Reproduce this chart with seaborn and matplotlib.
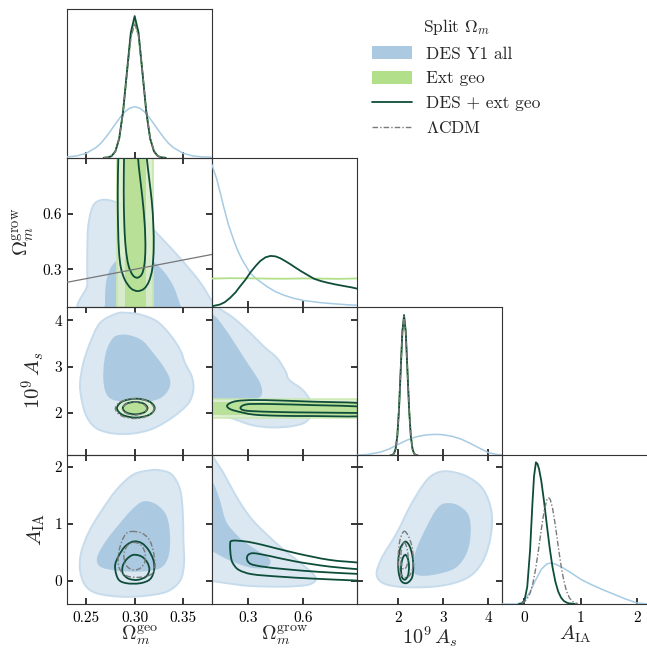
import numpy as np
import matplotlib
matplotlib.use("Agg")
import matplotlib.pyplot as plt
import seaborn as sns
from matplotlib.path import Path
from matplotlib.patches import PathPatch, Patch
from matplotlib.lines import Line2D

# ---------------- axes / labels ----------------
PARAM_LABELS = [r"$\Omega_m^{\rm geo}$", r"$\Omega_m^{\rm grow}$", r"$10^9\,A_s$", r"$A_{\rm IA}$"]
PARAM_LIMITS = [(0.23, 0.38), (0.1, 0.9), (1.08, 4.3), (-0.4, 2.2)]
PARAM_TICKS = [[0.25, 0.30, 0.35], [0.3, 0.6], [2, 3, 4], [0, 1, 2]]
PARAM_TICKLABELS = [["0.25", "0.30", "0.35"], ["0.3", "0.6"], ["2", "3", "4"], ["0", "1", "2"]]
SERIES = ["DES Y1 all", "Ext geo", "DES + ext geo", r"$\Lambda$CDM"]
LEGEND_TITLE = r"Split $\Omega_m$"

# ---------------- 1D marginals (normalised density) ----------------
GEO_DES_X = [0.230, 0.240, 0.250, 0.260, 0.265, 0.270, 0.275, 0.280, 0.285, 0.290, 0.295, 0.300,
             0.305, 0.310, 0.315, 0.320, 0.325, 0.330, 0.335, 0.340, 0.350, 0.360, 0.370, 0.380]
GEO_DES_Y = [0.006, 0.013, 0.032, 0.072, 0.102, 0.143, 0.189, 0.238, 0.285, 0.325, 0.351, 0.360,
             0.351, 0.325, 0.285, 0.238, 0.189, 0.143, 0.102, 0.072, 0.032, 0.013, 0.006, 0.004]
GEO_NARROW_X = [0.268, 0.272, 0.276, 0.280, 0.284, 0.288, 0.292, 0.296, 0.300,
                0.304, 0.308, 0.312, 0.316, 0.320, 0.324, 0.328, 0.332]
GEO_EXT_Y = [0.000, 0.003, 0.013, 0.048, 0.140, 0.328, 0.600, 0.858, 0.965,
             0.858, 0.600, 0.328, 0.140, 0.048, 0.013, 0.003, 0.000]
GEO_JOINT_Y = [0.000, 0.002, 0.011, 0.044, 0.135, 0.325, 0.607, 0.883, 1.000,
               0.883, 0.607, 0.325, 0.135, 0.044, 0.011, 0.002, 0.000]
GEO_LCDM_Y = [0.000, 0.002, 0.012, 0.045, 0.136, 0.320, 0.590, 0.840, 0.950,
              0.860, 0.612, 0.335, 0.142, 0.047, 0.012, 0.002, 0.000]

GROW_DES_X = [0.100, 0.126, 0.150, 0.163, 0.190, 0.218, 0.240, 0.265, 0.290, 0.311,
              0.350, 0.404, 0.450, 0.496, 0.550, 0.607, 0.700, 0.774, 0.850, 0.904]
GROW_DES_Y = [1.000, 0.900, 0.780, 0.711, 0.580, 0.475, 0.400, 0.333, 0.280, 0.234,
              0.190, 0.140, 0.105, 0.080, 0.058, 0.042, 0.027, 0.019, 0.012, 0.009]
GROW_EXT_X = [0.1, 0.2, 0.3, 0.4, 0.5, 0.6, 0.7, 0.8, 0.9]
GROW_EXT_Y = [0.197, 0.200, 0.199, 0.197, 0.196, 0.198, 0.197, 0.195, 0.198]
GROW_JOINT_X = [0.100, 0.144, 0.170, 0.200, 0.230, 0.256, 0.285, 0.311, 0.340, 0.367, 0.395, 0.422, 0.450,
                0.478, 0.505, 0.533, 0.560, 0.589, 0.630, 0.663, 0.700, 0.737, 0.780, 0.830, 0.870, 0.904]
GROW_JOINT_Y = [0.002, 0.014, 0.030, 0.061, 0.100, 0.144, 0.190, 0.239, 0.285, 0.322, 0.347, 0.357, 0.354,
                0.340, 0.320, 0.298, 0.275, 0.251, 0.220, 0.196, 0.180, 0.168, 0.156, 0.144, 0.135, 0.125]

AS_DES_X = [1.08, 1.3, 1.6, 1.8, 2.0, 2.2, 2.4, 2.6, 2.8, 2.9, 3.0, 3.2, 3.4, 3.6, 3.8, 4.0, 4.2, 4.3]
AS_DES_Y = [0.001, 0.005, 0.022, 0.045, 0.078, 0.108, 0.130, 0.143, 0.147, 0.147, 0.144, 0.133,
            0.113, 0.083, 0.050, 0.018, 0.005, 0.003]
AS_NARROW_X = [1.825, 1.8625, 1.9, 1.9375, 1.975, 2.0125, 2.05, 2.0875, 2.125,
               2.1625, 2.2, 2.2375, 2.275, 2.3125, 2.35, 2.3875, 2.425]
AS_EXT_Y = [0.000, 0.003, 0.013, 0.047, 0.138, 0.325, 0.595, 0.858, 0.970,
            0.858, 0.595, 0.325, 0.138, 0.047, 0.013, 0.003, 0.000]
AS_JOINT_Y = [0.000, 0.002, 0.011, 0.043, 0.134, 0.322, 0.600, 0.874, 0.990,
              0.874, 0.600, 0.322, 0.134, 0.043, 0.011, 0.002, 0.000]
AS_LCDM_Y = [0.000, 0.002, 0.011, 0.044, 0.136, 0.320, 0.595, 0.865, 0.980,
             0.868, 0.600, 0.325, 0.136, 0.044, 0.011, 0.002, 0.000]

AIA_DES_X = [-0.40, -0.15, -0.05, 0.0, 0.1, 0.2, 0.3, 0.4, 0.47, 0.55, 0.7, 0.85, 1.0, 1.2, 1.4, 1.6, 1.8, 2.0, 2.2]
AIA_DES_Y = [0.0, 0.0, 0.010, 0.025, 0.085, 0.170, 0.245, 0.283, 0.289, 0.282, 0.252, 0.215, 0.175,
             0.135, 0.100, 0.068, 0.035, 0.008, 0.0]
AIA_JOINT_X = [-0.10, -0.05, 0.0, 0.05, 0.10, 0.14, 0.17, 0.204, 0.23, 0.26, 0.30, 0.35, 0.40,
               0.45, 0.50, 0.55, 0.60, 0.65, 0.70, 0.75, 0.80, 0.90]
AIA_JOINT_Y = [0.000, 0.003, 0.025, 0.122, 0.380, 0.696, 0.900, 1.000, 0.990, 0.953, 0.868, 0.720, 0.553,
               0.393, 0.259, 0.158, 0.089, 0.046, 0.022, 0.010, 0.004, 0.000]
AIA_LCDM_X = [-0.05, 0.0, 0.05, 0.10, 0.15, 0.20, 0.25, 0.30, 0.35, 0.40, 0.43, 0.46, 0.50, 0.55,
              0.60, 0.65, 0.70, 0.75, 0.80, 0.85, 0.90, 0.95]
AIA_LCDM_Y = [0.006, 0.016, 0.037, 0.077, 0.146, 0.250, 0.383, 0.527, 0.656, 0.737, 0.750, 0.737,
              0.677, 0.556, 0.410, 0.274, 0.165, 0.090, 0.044, 0.019, 0.008, 0.003]

# ---------------- 2D contours (68% / 95% outlines) ----------------
# Omega_geo vs Omega_grow
GEO_GROW_DES95 = [(0.251, 0.06), (0.251, 0.22), (0.251, 0.390), (0.252, 0.534), (0.257, 0.642), (0.266, 0.673),
                  (0.278, 0.666), (0.292, 0.634), (0.306, 0.588), (0.319, 0.516), (0.337, 0.417),
                  (0.354, 0.318), (0.368, 0.228), (0.380, 0.129), (0.39, 0.06)]
GEO_GROW_DES68 = [(0.2693, 0.06), (0.2693, 0.111), (0.2704, 0.228), (0.2763, 0.318), (0.2883, 0.369),
                  (0.3021, 0.381), (0.3159, 0.354), (0.3297, 0.291), (0.340, 0.210), (0.347, 0.111), (0.349, 0.06)]
GEO_BAND95 = (0.282, 0.319)
GEO_BAND68 = (0.2895, 0.3115)
GEO_GROW_JOINT95 = [(0.2831, 0.9), (0.2825, 0.72), (0.2828, 0.54), (0.2838, 0.395), (0.2859, 0.305),
                    (0.2900, 0.242), (0.2963, 0.197), (0.3032, 0.183), (0.3100, 0.197), (0.3149, 0.237),
                    (0.3183, 0.305), (0.3197, 0.414), (0.3193, 0.54), (0.3177, 0.666), (0.3149, 0.792),
                    (0.3125, 0.9), (0.311, 1.0), (0.284, 1.0)]
GEO_GROW_JOINT68 = [(0.2890, 0.9), (0.2887, 0.72), (0.2893, 0.54), (0.2908, 0.414), (0.2935, 0.323),
                    (0.2980, 0.269), (0.3028, 0.255), (0.3073, 0.273), (0.3100, 0.323), (0.3111, 0.414),
                    (0.3104, 0.54), (0.3080, 0.684), (0.3052, 0.81), (0.3035, 0.9), (0.303, 1.0), (0.289, 1.0)]
EQUALITY_LINE = [0.0, 1.0]

# Omega_geo vs A_s
GEO_AS_DES95 = [(0.2814, 4.148), (0.2642, 3.945), (0.2538, 3.510), (0.2469, 3.075), (0.2435, 2.640),
                (0.2452, 2.277), (0.2504, 1.913), (0.2607, 1.660), (0.2779, 1.552), (0.2986, 1.552),
                (0.3193, 1.660), (0.3400, 1.913), (0.3556, 2.205), (0.3607, 2.494), (0.3591, 2.784),
                (0.3522, 3.075), (0.3470, 3.364), (0.3366, 3.691), (0.3229, 3.980), (0.3056, 4.126),
                (0.2918, 4.163)]
GEO_AS_DES68 = [(0.2883, 3.691), (0.2986, 3.655), (0.3090, 3.546), (0.3193, 3.292), (0.3297, 3.003),
                (0.3366, 2.712), (0.3349, 2.494), (0.3263, 2.313), (0.3125, 2.240), (0.2952, 2.240),
                (0.2779, 2.277), (0.2704, 2.422), (0.2676, 2.712), (0.2683, 3.075), (0.2717, 3.401),
                (0.2787, 3.640)]
GEO_AS_EXT95 = [(0.3211, 2.096), (0.3153, 2.250), (0.3012, 2.310), (0.2871, 2.250), (0.2813, 2.096),
                (0.2871, 1.942), (0.3012, 1.882), (0.3153, 1.942)]
GEO_AS_EXT68 = [(0.3145, 2.096), (0.3105, 2.199), (0.3010, 2.238), (0.2915, 2.199), (0.2875, 2.096),
                (0.2915, 1.994), (0.3010, 1.955), (0.3105, 1.994)]
GEO_AS_JOINT95 = [(0.3207, 2.10), (0.3150, 2.245), (0.3012, 2.305), (0.2874, 2.245), (0.2817, 2.10),
                  (0.2874, 1.955), (0.3012, 1.895), (0.3150, 1.955)]
GEO_AS_JOINT68 = [(0.3133, 2.10), (0.3096, 2.195), (0.3005, 2.235), (0.2914, 2.195), (0.2877, 2.10),
                  (0.2914, 2.005), (0.3005, 1.965), (0.3096, 2.005)]
GEO_AS_LCDM95 = [(0.3200, 2.09), (0.3141, 2.242), (0.3000, 2.305), (0.2859, 2.242), (0.2800, 2.09),
                 (0.2859, 1.938), (0.3000, 1.875), (0.3141, 1.938)]
GEO_AS_LCDM68 = [(0.3125, 2.09), (0.3088, 2.189), (0.3000, 2.230), (0.2912, 2.189), (0.2875, 2.09),
                 (0.2912, 1.991), (0.3000, 1.950), (0.3088, 1.991)]

# Omega_geo vs A_IA
GEO_AIA_DES95 = [(0.3159, 1.937), (0.2986, 1.862), (0.2814, 1.599), (0.2642, 1.190), (0.2521, 0.840),
                 (0.2445, 0.489), (0.2435, 0.196), (0.2486, -0.067), (0.2607, -0.212), (0.2849, -0.272),
                 (0.3090, -0.260), (0.3332, -0.184), (0.3470, 0.009), (0.3511, 0.314), (0.3504, 0.722),
                 (0.3498, 1.190), (0.3470, 1.599), (0.3384, 1.862), (0.3263, 1.937)]
GEO_AIA_DES68 = [(0.3090, 1.394), (0.3229, 1.336), (0.3332, 1.131), (0.3366, 0.780), (0.3349, 0.429),
                 (0.3263, 0.226), (0.3056, 0.166), (0.2814, 0.184), (0.2642, 0.254), (0.2614, 0.429),
                 (0.2711, 0.722), (0.2849, 1.015), (0.2970, 1.248)]
GEO_AIA_JOINT95 = [(0.2986, 0.692), (0.3073, 0.664), (0.3142, 0.547), (0.3193, 0.371), (0.3201, 0.196),
                   (0.3159, 0.033), (0.3056, -0.037), (0.2918, -0.037), (0.2831, 0.033), (0.2797, 0.254),
                   (0.2831, 0.429), (0.2900, 0.605)]
GEO_AIA_JOINT68 = [(0.2986, 0.459), (0.3073, 0.429), (0.3131, 0.324), (0.3152, 0.196), (0.3118, 0.079),
                   (0.3028, 0.021), (0.2935, 0.044), (0.2877, 0.138), (0.2877, 0.266), (0.2918, 0.383)]
GEO_AIA_LCDM95 = [(0.2970, 0.868), (0.3073, 0.839), (0.3152, 0.722), (0.3193, 0.517), (0.3211, 0.284),
                  (0.3177, 0.126), (0.3056, 0.068), (0.2918, 0.091), (0.2841, 0.226), (0.2831, 0.459),
                  (0.2866, 0.692), (0.2911, 0.827)]
GEO_AIA_LCDM68 = [(0.2986, 0.675), (0.3063, 0.634), (0.3107, 0.489), (0.3100, 0.314), (0.3038, 0.208),
                  (0.2959, 0.208), (0.2900, 0.314), (0.2890, 0.489), (0.2924, 0.617)]

# Omega_grow vs A_s
GROW_AS_DES95 = [(0.05, 4.5), (0.12, 4.5), (0.126, 4.307), (0.218, 4.054), (0.311, 3.728), (0.385, 3.436),
                 (0.459, 3.184), (0.506, 2.892), (0.526, 2.712), (0.600, 2.494), (0.646, 2.240),
                 (0.652, 2.022), (0.618, 1.804), (0.544, 1.711), (0.433, 1.682), (0.322, 1.732),
                 (0.211, 1.878), (0.100, 2.022), (0.05, 2.1)]
GROW_AS_DES68 = [(0.05, 4.15), (0.107, 4.12), (0.163, 3.871), (0.237, 3.436), (0.302, 3.038),
                 (0.357, 2.712), (0.376, 2.509), (0.367, 2.348), (0.311, 2.277), (0.200, 2.277),
                 (0.100, 2.292), (0.05, 2.29)]
AS_BAND95 = (1.885, 2.305)
AS_BAND68 = (1.960, 2.235)
GROW_AS_JOINT95 = [(0.95, 2.20), (0.656, 2.24), (0.47, 2.265), (0.33, 2.275), (0.24, 2.255), (0.20, 2.21),
                   (0.183, 2.15), (0.195, 2.09), (0.23, 2.04), (0.33, 1.96), (0.47, 1.935), (0.656, 1.929),
                   (0.95, 1.93), (1.05, 2.06)]
GROW_AS_JOINT68 = [(0.95, 2.13), (0.656, 2.165), (0.47, 2.185), (0.32, 2.19), (0.275, 2.165), (0.257, 2.11),
                   (0.27, 2.06), (0.32, 2.035), (0.47, 2.015), (0.656, 2.005), (0.95, 2.0), (1.05, 2.06)]

# Omega_grow vs A_IA
GROW_AIA_DES95 = [(0.05, 2.4), (0.105, 2.4), (0.107, 2.183), (0.163, 1.891), (0.218, 1.569), (0.274, 1.278),
                  (0.330, 1.043), (0.404, 0.810), (0.496, 0.547), (0.589, 0.314), (0.654, 0.138),
                  (0.672, 0.021), (0.626, -0.067), (0.496, -0.097), (0.311, -0.085), (0.182, -0.037),
                  (0.100, 0.003), (0.05, 0.02)]
GROW_AIA_DES68 = [(0.05, 1.8), (0.100, 1.75), (0.140, 1.45), (0.174, 1.073), (0.211, 0.897), (0.276, 0.693),
                  (0.359, 0.518), (0.415, 0.400), (0.419, 0.295), (0.378, 0.225), (0.304, 0.242),
                  (0.211, 0.342), (0.137, 0.459), (0.100, 0.518), (0.05, 0.55)]
GROW_AIA_JOINT95 = [(0.95, 0.30), (0.906, 0.324), (0.748, 0.371), (0.563, 0.488), (0.378, 0.634),
                    (0.285, 0.693), (0.211, 0.705), (0.200, 0.634), (0.204, 0.430), (0.215, 0.313),
                    (0.248, 0.196), (0.322, 0.120), (0.470, 0.079), (0.656, 0.044), (0.906, 0.009),
                    (0.95, 0.005), (1.05, 0.15)]
GROW_AIA_JOINT68 = [(0.95, 0.19), (0.906, 0.208), (0.748, 0.254), (0.563, 0.342), (0.415, 0.441),
                    (0.331, 0.488), (0.300, 0.459), (0.293, 0.383), (0.313, 0.301), (0.378, 0.254),
                    (0.507, 0.208), (0.693, 0.161), (0.906, 0.126), (0.95, 0.12), (1.05, 0.16)]

# A_s vs A_IA
AS_AIA_DES95 = [(3.072, 1.920), (3.516, 1.832), (3.885, 1.599), (4.071, 1.190), (4.034, 0.722),
                (3.849, 0.314), (3.516, 0.051), (2.923, -0.084), (2.184, -0.107), (1.702, -0.049),
                (1.517, 0.109), (1.628, 0.401), (1.962, 0.840), (2.257, 1.306), (2.552, 1.686), (2.774, 1.862)]
AS_AIA_DES68 = [(2.997, 1.353), (3.294, 1.336), (3.552, 1.160), (3.605, 0.840), (3.516, 0.489),
                (3.256, 0.226), (2.774, 0.109), (2.406, 0.109), (2.317, 0.254), (2.406, 0.577),
                (2.628, 0.955), (2.812, 1.218)]
AS_AIA_JOINT95 = [(2.146, 0.69), (2.242, 0.62), (2.308, 0.45), (2.330, 0.25), (2.301, 0.06), (2.184, -0.035),
                  (2.064, 0.0), (2.006, 0.15), (1.997, 0.35), (2.035, 0.56)]
AS_AIA_JOINT68 = [(2.146, 0.46), (2.206, 0.40), (2.235, 0.26), (2.213, 0.10), (2.146, 0.025), (2.079, 0.07),
                  (2.057, 0.22), (2.086, 0.38)]
AS_AIA_LCDM95 = [(2.124, 0.87), (2.219, 0.79), (2.295, 0.62), (2.330, 0.40), (2.308, 0.20), (2.219, 0.075),
                 (2.095, 0.08), (2.013, 0.22), (1.997, 0.45), (2.035, 0.72)]
AS_AIA_LCDM68 = [(2.124, 0.675), (2.184, 0.59), (2.213, 0.43), (2.184, 0.26), (2.108, 0.21), (2.057, 0.33),
                 (2.064, 0.54)]

# ---------------- style ----------------
BLUE_LINE = "#a6cbe3"
BLUE_68 = "#abcae1"
BLUE_95 = "#dbe8f2"
BLUE_EDGE = "#c6dcec"
GREEN_LINE = "#b2df8a"
GREEN_68 = "#b5df90"
GREEN_95 = "#dcefca"
GREEN_EDGE = "#c8e7ad"
DKGREEN = "#0e4d3a"
GRAY = "#7a7a7a"
DASHDOT = (0, (4, 1.5, 1, 1.5))

sns.set_theme(style="ticks")
plt.rcParams.update({
    "font.family": "serif",
    "font.serif": ["cmr10", "DejaVu Serif"],
    "mathtext.fontset": "cm",
    "axes.formatter.use_mathtext": True,
    "axes.unicode_minus": False,
})


def cr_path(pts, closed=True):
    P = np.asarray(pts, float)
    n = len(P)
    verts = [P[0]]
    codes = [Path.MOVETO]
    for i in range(n if closed else n - 1):
        p0 = P[(i - 1) % n] if (closed or i > 0) else P[0]
        p1 = P[i]
        p2 = P[(i + 1) % n]
        p3 = P[(i + 2) % n] if (closed or i + 2 < n) else P[-1]
        verts += [p1 + (p2 - p0) / 6.0, p2 - (p3 - p1) / 6.0, p2]
        codes += [Path.CURVE4] * 3
    return Path(verts, codes)


def fill_contour(ax, pts, fc, ec="none", lw=0.0, z=1, alpha=1.0):
    ax.add_patch(PathPatch(cr_path(pts), facecolor=fc, edgecolor=ec, lw=lw, zorder=z, alpha=alpha))


def line_contour(ax, pts, color, lw=1.3, ls="-", z=4):
    ax.add_patch(PathPatch(cr_path(pts), facecolor="none", edgecolor=color, lw=lw, ls=ls, zorder=z))


def des_fill(ax, c95, c68):
    fill_contour(ax, c95, BLUE_95, BLUE_EDGE, 1.4, z=1)
    fill_contour(ax, c68, BLUE_68, z=1.2)


def joint_lines(ax, c95, c68):
    line_contour(ax, c95, DKGREEN)
    line_contour(ax, c68, DKGREEN)


def lcdm_lines(ax, c95, c68):
    line_contour(ax, c95, GRAY, lw=1.0, ls=DASHDOT, z=4.5)
    line_contour(ax, c68, GRAY, lw=1.0, ls=DASHDOT, z=4.5)


def curve(ax, x, y, color, lw, ls="-", z=3):
    sns.lineplot(x=x, y=y, ax=ax, color=color, linewidth=lw, linestyle=ls,
                 estimator=None, sort=False, zorder=z)


W, H = 647.0, 648.0
LEFT0, TOP0, CW, RH = 67.0, 9.0, 145.0, 148.75

fig = plt.figure(figsize=(W / 100, H / 100), dpi=100)
axes = {}
for r in range(4):
    for c in range(r + 1):
        w = CW + (1.0 if c == 3 else 0.0)
        rect = [(LEFT0 + c * CW) / W, 1 - (TOP0 + (r + 1) * RH) / H, w / W, RH / H]
        axes[(r, c)] = fig.add_axes(rect)

# ---- diagonal ----
ax = axes[(0, 0)]
curve(ax, GEO_DES_X, GEO_DES_Y, BLUE_LINE, 1.1)
curve(ax, GEO_NARROW_X, GEO_EXT_Y, GREEN_LINE, 1.3)
curve(ax, GEO_NARROW_X, GEO_JOINT_Y, DKGREEN, 1.3)
curve(ax, GEO_NARROW_X, GEO_LCDM_Y, GRAY, 1.0, DASHDOT)

ax = axes[(1, 1)]
curve(ax, GROW_DES_X, GROW_DES_Y, BLUE_LINE, 1.1)
curve(ax, GROW_EXT_X, GROW_EXT_Y, GREEN_LINE, 1.3)
curve(ax, GROW_JOINT_X, GROW_JOINT_Y, DKGREEN, 1.3)

ax = axes[(2, 2)]
curve(ax, AS_DES_X, AS_DES_Y, BLUE_LINE, 1.1)
curve(ax, AS_NARROW_X, AS_EXT_Y, GREEN_LINE, 1.3)
curve(ax, AS_NARROW_X, AS_JOINT_Y, DKGREEN, 1.3)
curve(ax, AS_NARROW_X, AS_LCDM_Y, GRAY, 1.0, DASHDOT)

ax = axes[(3, 3)]
curve(ax, AIA_DES_X, AIA_DES_Y, BLUE_LINE, 1.1)
curve(ax, AIA_JOINT_X, AIA_JOINT_Y, DKGREEN, 1.3)
curve(ax, AIA_LCDM_X, AIA_LCDM_Y, GRAY, 1.0, DASHDOT)

# ---- off-diagonal ----
ax = axes[(1, 0)]
des_fill(ax, GEO_GROW_DES95, GEO_GROW_DES68)
ax.axvspan(*GEO_BAND95, facecolor=GREEN_95, edgecolor=GREEN_EDGE, lw=1.4, alpha=0.9, zorder=2)
ax.axvspan(*GEO_BAND68, facecolor=GREEN_68, edgecolor="none", alpha=0.9, zorder=2.1)
joint_lines(ax, GEO_GROW_JOINT95, GEO_GROW_JOINT68)
ax.plot(EQUALITY_LINE, EQUALITY_LINE, color="#777777", lw=0.9, zorder=5)

ax = axes[(2, 0)]
des_fill(ax, GEO_AS_DES95, GEO_AS_DES68)
fill_contour(ax, GEO_AS_EXT95, GREEN_95, GREEN_EDGE, 1.2, z=2, alpha=0.9)
fill_contour(ax, GEO_AS_EXT68, GREEN_68, z=2.1, alpha=0.9)
joint_lines(ax, GEO_AS_JOINT95, GEO_AS_JOINT68)
lcdm_lines(ax, GEO_AS_LCDM95, GEO_AS_LCDM68)

ax = axes[(3, 0)]
des_fill(ax, GEO_AIA_DES95, GEO_AIA_DES68)
lcdm_lines(ax, GEO_AIA_LCDM95, GEO_AIA_LCDM68)
joint_lines(ax, GEO_AIA_JOINT95, GEO_AIA_JOINT68)

ax = axes[(2, 1)]
des_fill(ax, GROW_AS_DES95, GROW_AS_DES68)
ax.axhspan(*AS_BAND95, facecolor=GREEN_95, edgecolor=GREEN_EDGE, lw=1.2, alpha=0.85, zorder=2)
ax.axhspan(*AS_BAND68, facecolor=GREEN_68, edgecolor="none", alpha=0.85, zorder=2.1)
joint_lines(ax, GROW_AS_JOINT95, GROW_AS_JOINT68)

ax = axes[(3, 1)]
des_fill(ax, GROW_AIA_DES95, GROW_AIA_DES68)
joint_lines(ax, GROW_AIA_JOINT95, GROW_AIA_JOINT68)

ax = axes[(3, 2)]
des_fill(ax, AS_AIA_DES95, AS_AIA_DES68)
lcdm_lines(ax, AS_AIA_LCDM95, AS_AIA_LCDM68)
joint_lines(ax, AS_AIA_JOINT95, AS_AIA_JOINT68)

# ---- axes formatting ----
TICK_SIZE = 11.0
LABEL_SIZE = 14.5
for (r, c), ax in axes.items():
    ax.set_facecolor("none")
    ax.set_xlim(*PARAM_LIMITS[c])
    ax.set_xticks(PARAM_TICKS[c])
    ax.set_xticklabels(PARAM_TICKLABELS[c])
    ax.set_xlabel("")
    ax.set_ylabel("")
    for s in ax.spines.values():
        s.set_visible(True)
        s.set_color("#333333")
        s.set_linewidth(0.8)
    if r == c:
        ax.set_ylim(0, 1.05)
        ax.set_yticks([])
        ax.tick_params(axis="x", which="both", direction="in", length=4.0, width=1.1, pad=5.5,
                       bottom=True, top=False, labelbottom=(r == 3), labelsize=TICK_SIZE, colors="black")
    else:
        ax.set_ylim(*PARAM_LIMITS[r])
        ax.set_yticks(PARAM_TICKS[r])
        ax.set_yticklabels(PARAM_TICKLABELS[r])
        ax.tick_params(axis="both", which="both", direction="in", length=4.0, width=1.1, pad=3.5,
                       bottom=True, top=True, left=True, right=True,
                       labelbottom=(r == 3), labelleft=(c == 0), labelsize=TICK_SIZE, colors="black")
        ax.tick_params(axis="x", pad=5.5)
    if r == 3:
        ax.set_xlabel(PARAM_LABELS[c], fontsize=LABEL_SIZE, labelpad=-1)
    if c == 0 and r > 0:
        ax.set_ylabel(PARAM_LABELS[r], fontsize=LABEL_SIZE + 0.5, labelpad=5)

# ---- legend ----
handles = [Patch(facecolor=BLUE_68, edgecolor="none"),
           Patch(facecolor=GREEN_LINE, edgecolor="none"),
           Line2D([], [], color=DKGREEN, lw=1.3),
           Line2D([], [], color=GRAY, lw=1.0, ls=DASHDOT)]
fig.legend(handles, SERIES, loc="upper left", bbox_to_anchor=(372 / W, 1 - 17 / H),
           frameon=False, title=LEGEND_TITLE, fontsize=12.5, title_fontsize=12.5,
           handlelength=2.3, handleheight=0.8, handletextpad=0.8, labelspacing=0.52,
           borderpad=0, borderaxespad=0)

fig.savefig("out.png", dpi=100)
